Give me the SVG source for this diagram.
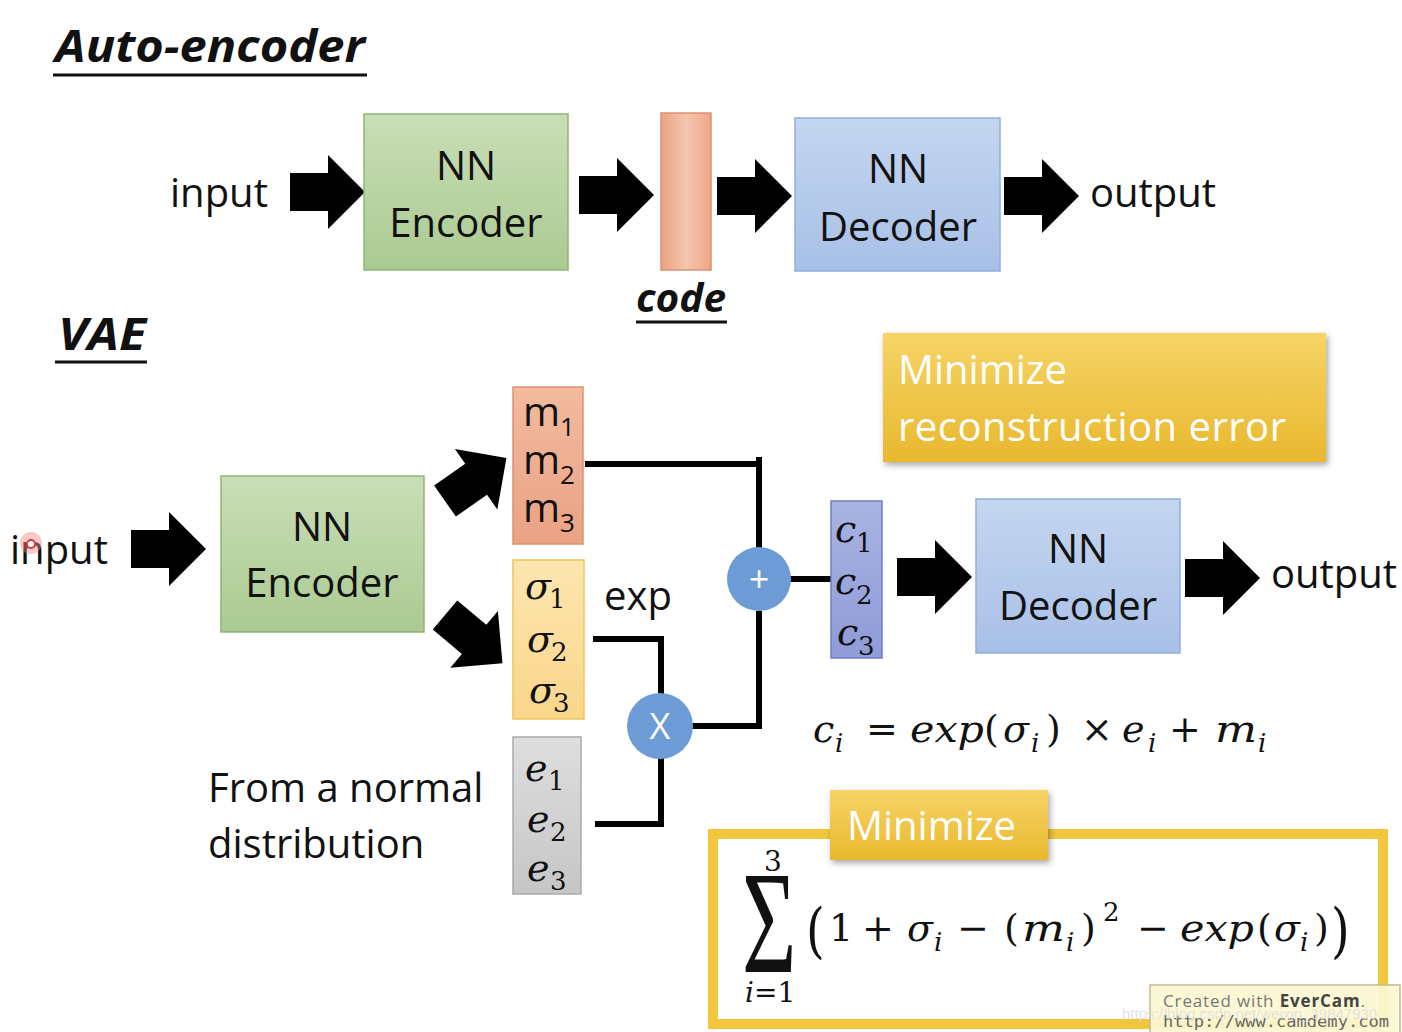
<svg xmlns="http://www.w3.org/2000/svg" width="1402" height="1032" viewBox="0 0 1402 1032">
<defs>
<linearGradient id="gGreen" x1="0" y1="0" x2="0" y2="1"><stop offset="0" stop-color="#c9deb6"/><stop offset="1" stop-color="#abca92"/></linearGradient>
<linearGradient id="gBlue" x1="0" y1="0" x2="0" y2="1"><stop offset="0" stop-color="#c4d5ef"/><stop offset="1" stop-color="#a8c0e7"/></linearGradient>
<linearGradient id="gCode" x1="0" y1="0" x2="1" y2="0"><stop offset="0" stop-color="#eba283"/><stop offset="0.5" stop-color="#f5c6ae"/><stop offset="1" stop-color="#eda688"/></linearGradient>
<linearGradient id="gM" x1="0" y1="0" x2="0" y2="1"><stop offset="0" stop-color="#f2ba9e"/><stop offset="1" stop-color="#eaa284"/></linearGradient>
<linearGradient id="gS" x1="0" y1="0" x2="0" y2="1"><stop offset="0" stop-color="#fde6b0"/><stop offset="1" stop-color="#f9d68a"/></linearGradient>
<linearGradient id="gE" x1="0" y1="0" x2="0" y2="1"><stop offset="0" stop-color="#dedede"/><stop offset="1" stop-color="#c6c6c6"/></linearGradient>
<linearGradient id="gC" x1="0" y1="0" x2="0" y2="1"><stop offset="0" stop-color="#a9b3e3"/><stop offset="1" stop-color="#8f9bd7"/></linearGradient>
<linearGradient id="gY" x1="0" y1="0" x2="0" y2="1"><stop offset="0" stop-color="#f6d466"/><stop offset="1" stop-color="#e9b82e"/></linearGradient>
<filter id="shadow" x="-10%" y="-10%" width="120%" height="130%"><feDropShadow dx="2" dy="3" stdDeviation="3" flood-color="#000" flood-opacity="0.35"/></filter>
<path id="blk" d="M0,-19 H38 V-37 L75,0 L38,37 V19 H0 Z"/>
<style>
.sans{font-family:"Open Sans","Noto Sans","Liberation Sans",sans-serif;font-size:40px;fill:#111}
.title{font-family:"Open Sans","Liberation Sans",sans-serif;font-weight:bold;font-style:italic;fill:#111}
.mc{text-anchor:middle}
.white{fill:#fff}
.op{font-size:36px}
.math{font-family:"DejaVu Serif","Liberation Serif",serif;font-style:italic;font-size:38px;fill:#111}
.up{font-style:normal}
.sub{font-size:26px}
.lim{font-size:28px}
.big{font-size:60px}
.msub{font-family:"Open Sans","Liberation Sans",sans-serif;font-size:26px;fill:#111}
.line{fill:none;stroke:#000;stroke-width:6}
.uline{stroke:#111;stroke-width:3}
</style>
</defs>
<rect width="1402" height="1032" fill="#fff"/>

<!-- Titles -->
<g id="title-ae">
<text class="title" x="55" y="62" font-size="44" textLength="310" lengthAdjust="spacingAndGlyphs">Auto-encoder</text>
<line class="uline" x1="53" y1="75" x2="367" y2="75"/>
</g>
<g id="title-vae">
<text class="title" x="58" y="350" font-size="44" textLength="88" lengthAdjust="spacingAndGlyphs">VAE</text>
<line class="uline" x1="55" y1="362" x2="147" y2="362"/>
</g>

<!-- Connectors -->
<g id="connectors">
<use href="#blk" transform="translate(290,192)"/>
<use href="#blk" transform="translate(579,195)"/>
<use href="#blk" transform="translate(717,196)"/>
<use href="#blk" transform="translate(1004,196)"/>
<use href="#blk" transform="translate(131,549)"/>
<use href="#blk" transform="translate(445,501) rotate(-35)"/>
<use href="#blk" transform="translate(445,615) rotate(40)"/>
<use href="#blk" transform="translate(897,577)"/>
<use href="#blk" transform="translate(1185,578)"/>
<path class="line" d="M585,464 H762"/>
<path class="line" d="M759,457 V548"/>
<path class="line" d="M759,611 V726 H692"/>
<path class="line" d="M593,639 H661 V694"/>
<path class="line" d="M595,824 H661 V758"/>
<path class="line" d="M790,579 H833"/>
</g>

<!-- Top row -->
<g id="ae-input"><text class="sans" x="170" y="207">input</text></g>
<g id="ae-encoder">
<rect x="364" y="114" width="204" height="156" fill="url(#gGreen)" stroke="#8fb573" stroke-width="1.5"/>
<text class="sans mc" x="466" y="180">NN</text>
<text class="sans mc" x="466" y="237">Encoder</text>
</g>
<g id="ae-code">
<rect x="661" y="113" width="50" height="157" fill="url(#gCode)" stroke="#de9070" stroke-width="1.5"/>
<text class="title" x="636" y="312" font-size="40" textLength="90" lengthAdjust="spacingAndGlyphs">code</text>
<line class="uline" x1="636" y1="322" x2="727" y2="322"/>
</g>
<g id="ae-decoder">
<rect x="795" y="118" width="205" height="153" fill="url(#gBlue)" stroke="#8fafdd" stroke-width="1.5"/>
<text class="sans mc" x="898" y="183">NN</text>
<text class="sans mc" x="898" y="241">Decoder</text>
</g>
<g id="ae-output"><text class="sans" x="1090" y="207">output</text></g>

<!-- Minimize reconstruction error -->
<g id="min-recon">
<rect x="883" y="333" width="443" height="129" fill="url(#gY)" filter="url(#shadow)"/>
<text class="sans white" x="898" y="384">Minimize</text>
<text class="sans white" x="898" y="441" textLength="388">reconstruction error</text>
</g>

<!-- VAE row -->
<g id="vae-input">
<text class="sans" x="10" y="564">input</text>
<circle cx="31" cy="543" r="11" fill="#f08a8a" opacity="0.45"/>
<circle cx="31" cy="544" r="4" fill="#fff" stroke="#d83a3a" stroke-width="2"/>
</g>
<g id="vae-encoder">
<rect x="221" y="476" width="203" height="156" fill="url(#gGreen)" stroke="#8fb573" stroke-width="1.5"/>
<text class="sans mc" x="322" y="541">NN</text>
<text class="sans mc" x="322" y="597">Encoder</text>
</g>
<g id="vae-m">
<rect x="513" y="387" width="70" height="157" fill="url(#gM)" stroke="#dc9270" stroke-width="1.5"/>
<text class="sans" x="523" y="426">m<tspan class="msub" x="560" y="436">1</tspan></text>
<text class="sans" x="523" y="474">m<tspan class="msub" x="560" y="484">2</tspan></text>
<text class="sans" x="523" y="522">m<tspan class="msub" x="560" y="532">3</tspan></text>
</g>
<g id="vae-sigma">
<rect x="513" y="560" width="71" height="159" fill="url(#gS)" stroke="#f0c458" stroke-width="1.5"/>
<text class="math" x="525" y="599">σ<tspan class="up sub" x="549" y="608">1</tspan></text>
<text class="math" x="527" y="652">σ<tspan class="up sub" x="551" y="661">2</tspan></text>
<text class="math" x="529" y="703">σ<tspan class="up sub" x="553" y="712">3</tspan></text>
</g>
<g id="vae-exp"><text class="sans" x="604" y="610">exp</text></g>
<g id="vae-e">
<rect x="513" y="737" width="68" height="157" fill="url(#gE)" stroke="#aaaaaa" stroke-width="1.5"/>
<text class="math" x="525" y="781">e<tspan class="up sub" x="548" y="790">1</tspan></text>
<text class="math" x="527" y="832">e<tspan class="up sub" x="550" y="841">2</tspan></text>
<text class="math" x="527" y="881">e<tspan class="up sub" x="550" y="890">3</tspan></text>
</g>
<g id="vae-normal">
<text class="sans" x="208" y="802">From a normal</text>
<text class="sans" x="208" y="858">distribution</text>
</g>
<g id="op-mul">
<circle cx="660" cy="726" r="33" fill="#6c9bd5"/>
<text class="sans mc white op" x="660" y="739">X</text>
</g>
<g id="op-add">
<circle cx="759" cy="579" r="32" fill="#6c9bd5"/>
<text class="sans mc white op" x="759" y="592">+</text>
</g>
<g id="vae-c">
<rect x="831" y="501" width="51" height="157" fill="url(#gC)" stroke="#6f7fc6" stroke-width="1.5"/>
<text class="math" x="835" y="542">c<tspan class="up sub" x="856" y="552">1</tspan></text>
<text class="math" x="835" y="594">c<tspan class="up sub" x="856" y="604">2</tspan></text>
<text class="math" x="837" y="645">c<tspan class="up sub" x="858" y="655">3</tspan></text>
</g>
<g id="vae-decoder">
<rect x="976" y="499" width="204" height="154" fill="url(#gBlue)" stroke="#8fafdd" stroke-width="1.5"/>
<text class="sans mc" x="1078" y="563">NN</text>
<text class="sans mc" x="1078" y="620">Decoder</text>
</g>
<g id="vae-output"><text class="sans" x="1271" y="588">output</text></g>

<!-- equation -->
<g id="eq-c">
<text class="math" x="813" y="742">c</text>
<text class="math sub" x="835" y="752">i</text>
<text class="math up" x="866" y="742">=</text>
<text class="math" x="910" y="742" textLength="74" lengthAdjust="spacingAndGlyphs">exp</text>
<text class="math up" x="984" y="742">(</text>
<text class="math" x="1003" y="742">σ</text>
<text class="math sub" x="1031" y="752">i</text>
<text class="math up" x="1046" y="742">)</text>
<text class="math up" x="1081" y="742">×</text>
<text class="math" x="1122" y="742">e</text>
<text class="math sub" x="1148" y="752">i</text>
<text class="math up" x="1169" y="742">+</text>
<text class="math" x="1215" y="742" textLength="42" lengthAdjust="spacingAndGlyphs">m</text>
<text class="math sub" x="1258" y="752">i</text>
</g>

<!-- Minimize KL box -->
<g id="min-kl">
<rect x="713" y="834" width="670" height="190" fill="#fff" stroke="#f1c63c" stroke-width="10"/>
<rect x="830" y="790" width="218" height="70" fill="url(#gY)" filter="url(#shadow)"/>
<text class="sans white" x="847" y="840">Minimize</text>
<text x="0" y="0" transform="translate(742,972) scale(0.64,1)" font-family="Liberation Serif,serif" font-size="146" fill="#111">Σ</text>
<text class="math up lim" x="764" y="871">3</text>
<text class="math lim" x="745" y="1002">i<tspan class="up">=1</tspan></text>
<text class="math up big" x="0" y="0" transform="translate(806,951) scale(0.8,1)">(</text>
<text class="math up" x="829" y="941">1</text>
<text class="math up" x="862" y="941">+</text>
<text class="math" x="907" y="941">σ</text>
<text class="math sub" x="934" y="951">i</text>
<text class="math up" x="957" y="941">−</text>
<text class="math up" x="1004" y="941">(</text>
<text class="math" x="1022" y="941" textLength="43" lengthAdjust="spacingAndGlyphs">m</text>
<text class="math sub" x="1066" y="951">i</text>
<text class="math up" x="1081" y="941">)</text>
<text class="math up sub" x="1103" y="921">2</text>
<text class="math up" x="1137" y="941">−</text>
<text class="math" x="1180" y="941" textLength="74" lengthAdjust="spacingAndGlyphs">exp</text>
<text class="math up" x="1257" y="941">(</text>
<text class="math" x="1274" y="941">σ</text>
<text class="math sub" x="1300" y="951">i</text>
<text class="math up" x="1314" y="941">)</text>
<text class="math up big" x="0" y="0" transform="translate(1331,951) scale(0.8,1)">)</text>
</g>

<!-- watermark -->
<g id="evercam">
<rect x="1150" y="985" width="250" height="50" fill="#fcf7d2" fill-opacity="0.92" stroke="#c2bb8c" stroke-width="1.5"/>
<text x="1163" y="1007" font-family="Open Sans,Liberation Sans,sans-serif" font-size="17" fill="#777" textLength="202">Created with <tspan font-weight="bold" fill="#444">EverCam</tspan>.</text>
<text x="1163" y="1027" font-family="DejaVu Sans Mono,Liberation Mono,monospace" font-size="16" fill="#666" textLength="226" lengthAdjust="spacingAndGlyphs">http://www.camdemy.com</text>
<text x="1122" y="1019" font-family="Liberation Sans,sans-serif" font-size="15" fill="#dcdcdc" fill-opacity="0.8">https://blog.csdn.net/weixin_39847930</text>
</g>
</svg>
